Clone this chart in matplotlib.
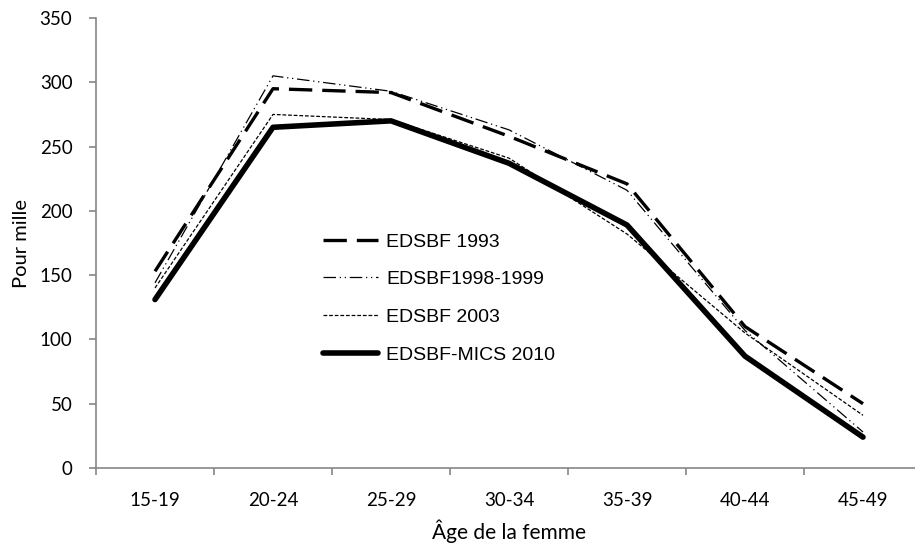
import matplotlib.pyplot as plt

groupes_age = ['15-19', '20-24', '25-29', '30-34', '35-39', '40-44', '45-49']
edsbf_1993 = [153, 295, 292, 258, 221, 110, 50]
edsbf_1998 = [144, 305, 293, 263, 216, 107, 28]
edsbf_2003 = [140, 275, 271, 241, 182, 105, 41]
edsbf_2010 = [131, 265, 270, 237, 189, 87, 24]

plt.rcParams['font.family'] = ['Lato', 'DejaVu Sans']
axis_color = '#868686'

fig = plt.figure(figsize=(9.15, 5.5), dpi=100)
ax = fig.add_axes([96 / 915, 82 / 550, 826 / 915, 450 / 550])

x = range(len(groupes_age))
ax.plot(x, edsbf_1993, color='black', lw=2.4, dashes=(7, 3),
        solid_capstyle='round', label='EDSBF 1993')
ax.plot(x, edsbf_1998, color='black', lw=0.9, dashes=(10, 3, 1, 3, 1, 3),
        label='EDSBF1998-1999')
ax.plot(x, edsbf_2003, color='black', lw=0.9, dashes=(3, 1.5),
        label='EDSBF 2003')
ax.plot(x, edsbf_2010, color='black', lw=4, solid_capstyle='round',
        label='EDSBF-MICS 2010')

ax.set_xlim(-0.5, len(groupes_age) - 0.5)
ax.set_ylim(0, 350)
ax.set_yticks(range(0, 351, 50))
ax.set_xticks(list(x))
ax.set_xticklabels(groupes_age)
ax.set_xticks([i - 0.5 for i in range(len(groupes_age) + 1)], minor=True)
ax.tick_params(axis='x', which='major', length=0, labelsize=13.5, pad=17)
ax.tick_params(axis='x', which='minor', length=5, color=axis_color, width=1.2)
ax.tick_params(axis='y', length=5, color=axis_color, width=1.2,
               labelsize=13.5, pad=12)

for side in ['top', 'right']:
    ax.spines[side].set_visible(False)
for side in ['left', 'bottom']:
    ax.spines[side].set_color(axis_color)
    ax.spines[side].set_linewidth(1.2)

ax.set_xlabel('Âge de la femme', fontsize=15, labelpad=8)
ax.set_ylabel('Pour mille', fontsize=14.5, labelpad=7)

leg = ax.legend(loc='upper left', bbox_to_anchor=(323 / 915, 1 - 233 / 550),
                bbox_transform=fig.transFigure, frameon=False,
                prop={'family': 'Liberation Sans', 'size': 14},
                handlelength=2.85, labelspacing=1.03, handletextpad=0.4,
                borderaxespad=0, borderpad=0)

fig.savefig('out.png', dpi=100)
